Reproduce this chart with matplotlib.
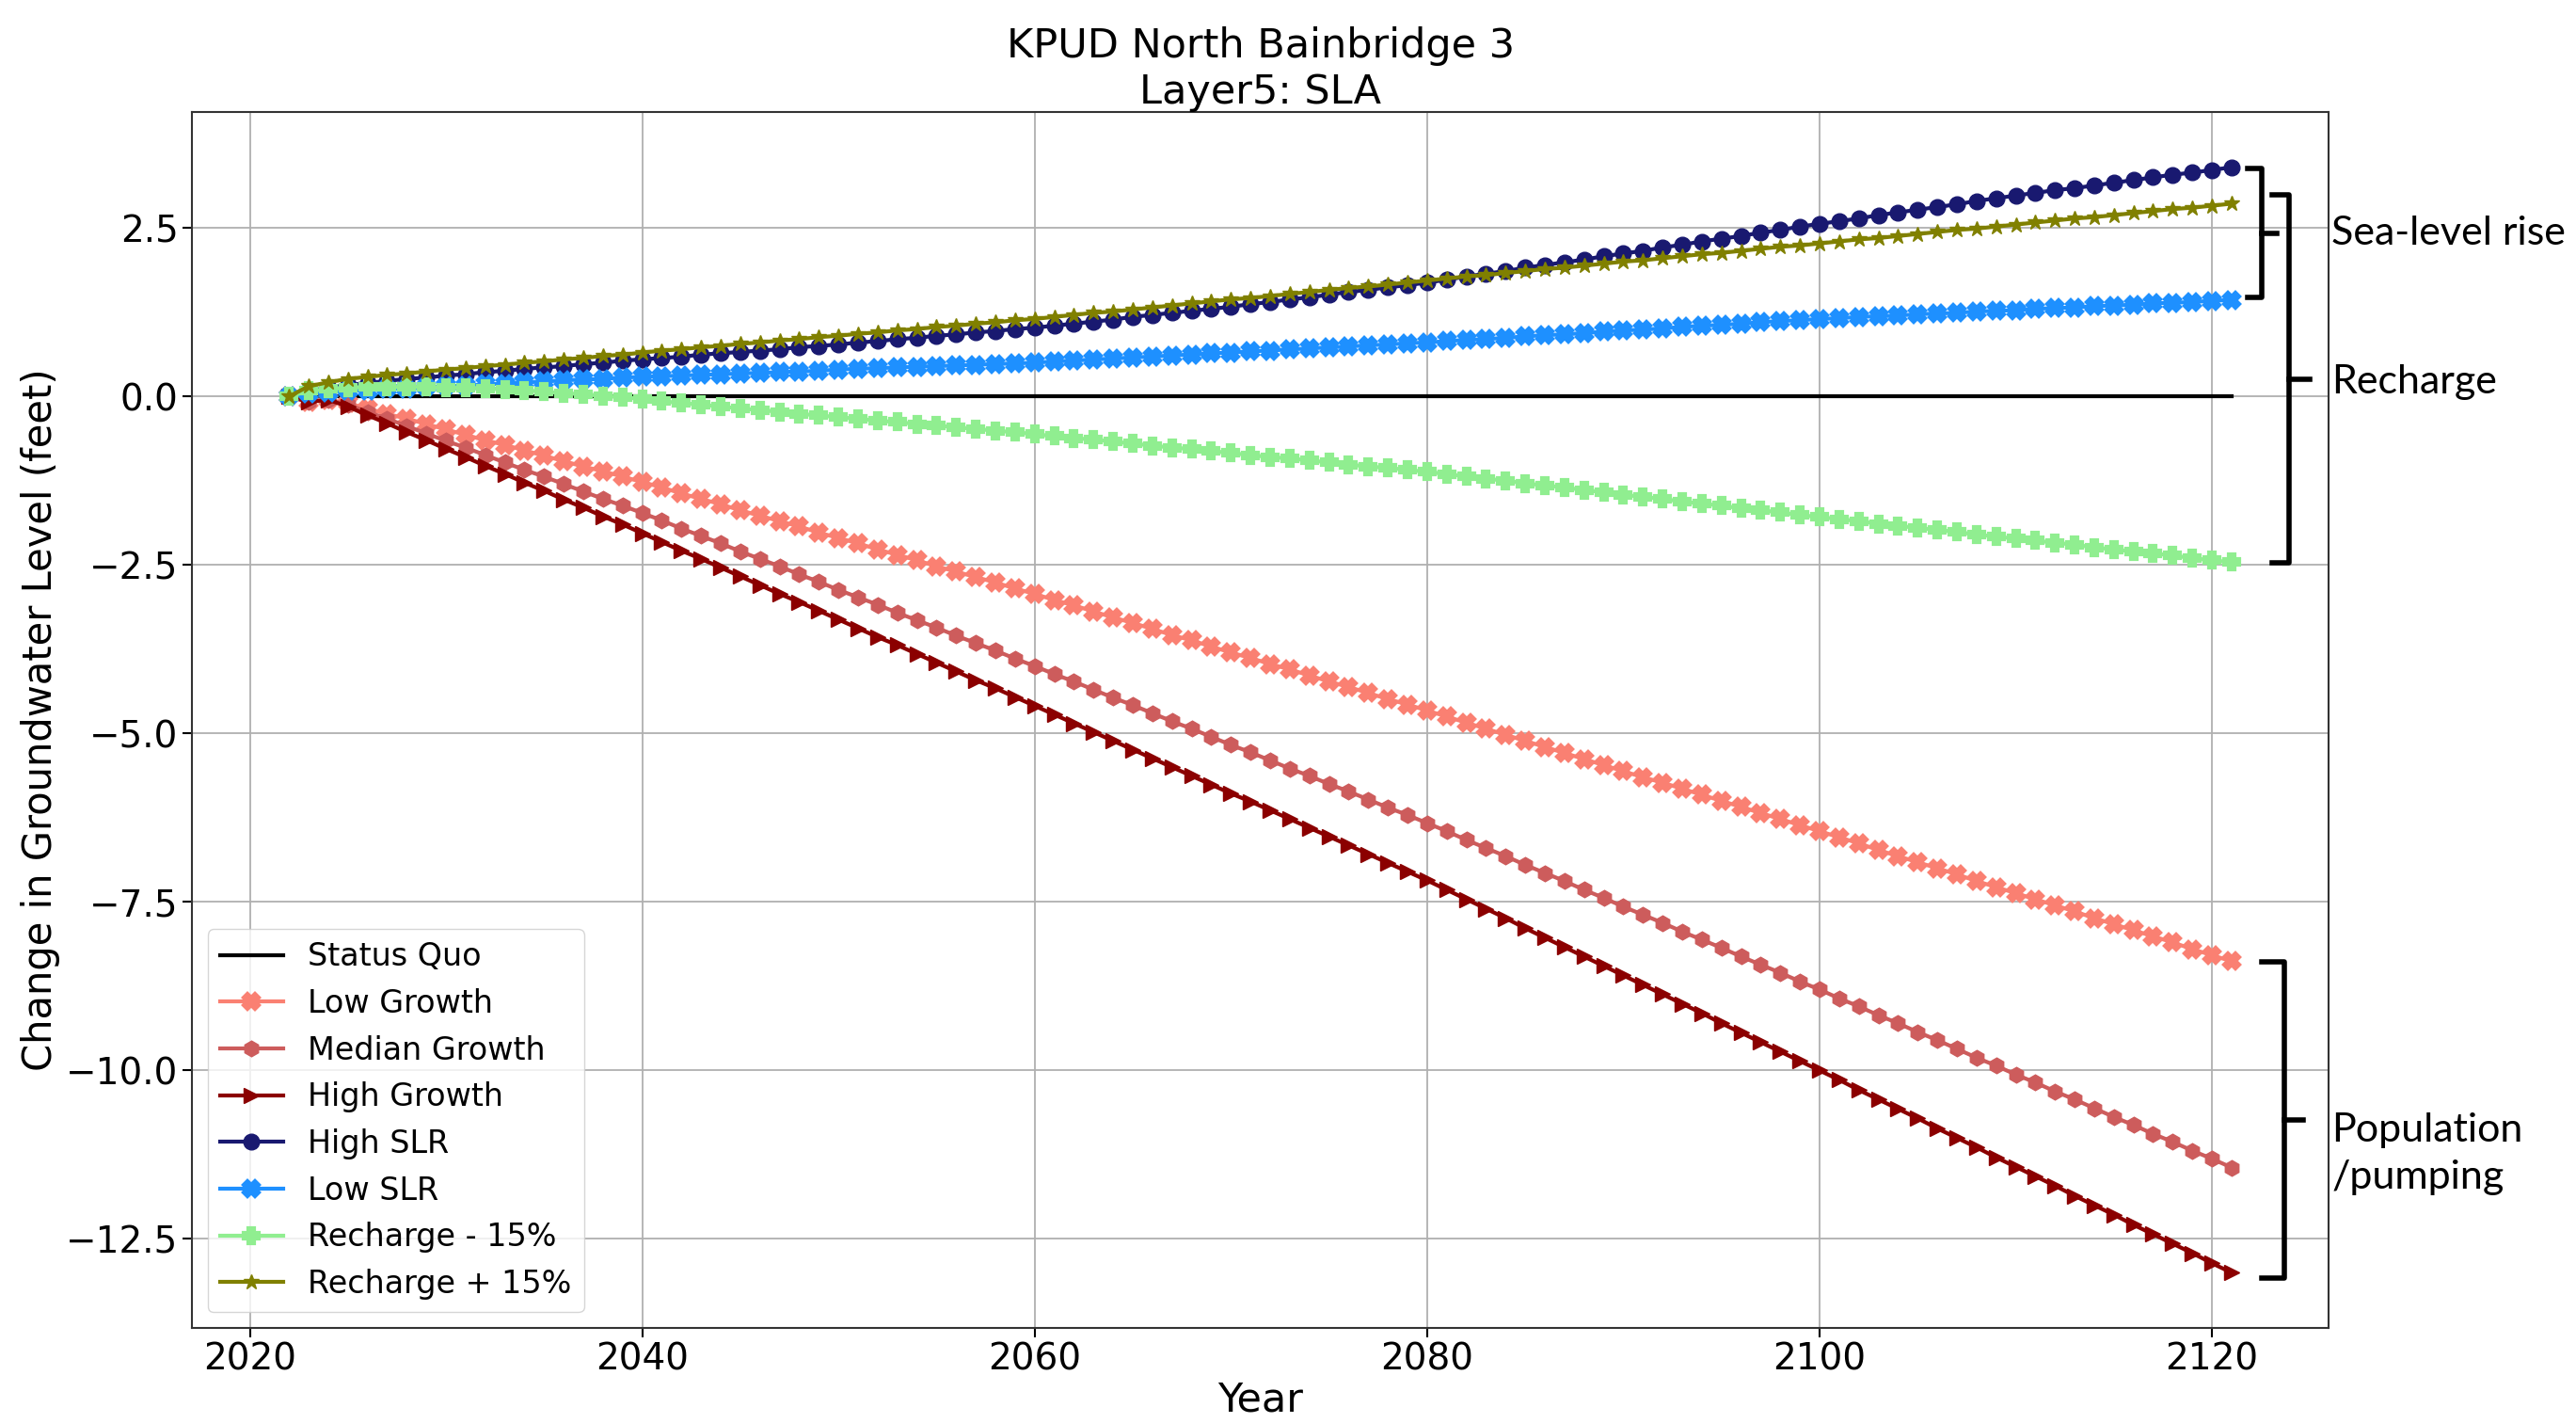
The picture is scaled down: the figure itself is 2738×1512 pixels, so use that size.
import matplotlib
matplotlib.use("Agg")
import matplotlib.pyplot as plt

# yearly model output, 2022-2121
years = list(range(2022, 2122))

status_quo = [0.0] * len(years)

low_growth = [
    0.00, -0.08, -0.05, -0.10, -0.18, -0.26, -0.33, -0.41, -0.49, -0.57,
    -0.65, -0.72, -0.80, -0.88, -0.96, -1.04, -1.11, -1.19, -1.27, -1.35,
    -1.44, -1.52, -1.60, -1.69, -1.77, -1.85, -1.93, -2.02, -2.10, -2.18,
    -2.27, -2.35, -2.43, -2.52, -2.60, -2.68, -2.76, -2.85, -2.93, -3.02,
    -3.10, -3.19, -3.28, -3.36, -3.45, -3.54, -3.62, -3.71, -3.80, -3.88,
    -3.97, -4.05, -4.14, -4.23, -4.31, -4.40, -4.49, -4.57, -4.66, -4.75,
    -4.84, -4.93, -5.02, -5.11, -5.20, -5.29, -5.38, -5.47, -5.56, -5.65,
    -5.73, -5.82, -5.91, -6.00, -6.09, -6.18, -6.27, -6.36, -6.45, -6.54,
    -6.63, -6.73, -6.82, -6.91, -7.00, -7.09, -7.19, -7.28, -7.37, -7.46,
    -7.55, -7.64, -7.74, -7.83, -7.92, -8.01, -8.10, -8.20, -8.29, -8.38,
]

median_growth = [
    0.00, -0.08, -0.05, -0.12, -0.23, -0.33, -0.44, -0.55, -0.66, -0.76,
    -0.87, -0.98, -1.09, -1.19, -1.30, -1.41, -1.52, -1.62, -1.73, -1.84,
    -1.96, -2.07, -2.18, -2.30, -2.41, -2.52, -2.64, -2.75, -2.87, -2.98,
    -3.09, -3.21, -3.32, -3.43, -3.55, -3.66, -3.77, -3.89, -4.00, -4.12,
    -4.23, -4.35, -4.47, -4.58, -4.70, -4.82, -4.93, -5.05, -5.17, -5.28,
    -5.40, -5.52, -5.63, -5.75, -5.86, -5.98, -6.10, -6.21, -6.33, -6.45,
    -6.58, -6.70, -6.82, -6.95, -7.07, -7.19, -7.32, -7.44, -7.57, -7.69,
    -7.81, -7.94, -8.06, -8.18, -8.31, -8.43, -8.55, -8.68, -8.80, -8.93,
    -9.05, -9.18, -9.30, -9.43, -9.55, -9.68, -9.81, -9.93, -10.06, -10.18,
    -10.31, -10.43, -10.56, -10.69, -10.81, -10.94, -11.06, -11.19, -11.31, -11.44,
]

high_growth = [
    0.00, -0.08, -0.05, -0.15, -0.28, -0.40, -0.53, -0.65, -0.78, -0.90,
    -1.03, -1.15, -1.28, -1.40, -1.53, -1.65, -1.78, -1.90, -2.03, -2.16,
    -2.29, -2.41, -2.54, -2.67, -2.80, -2.93, -3.05, -3.18, -3.31, -3.44,
    -3.57, -3.69, -3.82, -3.95, -4.08, -4.21, -4.33, -4.46, -4.59, -4.72,
    -4.85, -4.98, -5.11, -5.24, -5.37, -5.50, -5.63, -5.76, -5.89, -6.01,
    -6.14, -6.27, -6.40, -6.53, -6.66, -6.79, -6.92, -7.05, -7.18, -7.32,
    -7.46, -7.60, -7.74, -7.89, -8.03, -8.17, -8.31, -8.45, -8.59, -8.73,
    -8.87, -9.01, -9.15, -9.30, -9.44, -9.58, -9.72, -9.86, -10.00, -10.14,
    -10.29, -10.43, -10.57, -10.71, -10.86, -11.00, -11.14, -11.29, -11.43, -11.57,
    -11.71, -11.86, -12.00, -12.14, -12.29, -12.43, -12.57, -12.71, -12.86, -13.00,
]

high_slr = [
    0.00, 0.08, 0.13, 0.17, 0.20, 0.23, 0.26, 0.28, 0.31, 0.33,
    0.36, 0.38, 0.41, 0.43, 0.45, 0.48, 0.50, 0.53, 0.55, 0.57,
    0.59, 0.62, 0.64, 0.66, 0.68, 0.70, 0.73, 0.75, 0.77, 0.80,
    0.82, 0.85, 0.87, 0.90, 0.92, 0.95, 0.97, 1.00, 1.02, 1.05,
    1.08, 1.11, 1.14, 1.18, 1.21, 1.24, 1.27, 1.30, 1.33, 1.37,
    1.40, 1.44, 1.47, 1.51, 1.55, 1.58, 1.62, 1.65, 1.69, 1.73,
    1.78, 1.82, 1.86, 1.91, 1.95, 1.99, 2.03, 2.08, 2.12, 2.16,
    2.21, 2.25, 2.30, 2.34, 2.38, 2.43, 2.47, 2.52, 2.56, 2.60,
    2.64, 2.69, 2.73, 2.77, 2.81, 2.85, 2.90, 2.94, 2.98, 3.02,
    3.06, 3.09, 3.13, 3.17, 3.21, 3.25, 3.29, 3.32, 3.36, 3.40,
]

low_slr = [
    0.00, 0.04, 0.06, 0.08, 0.09, 0.11, 0.12, 0.14, 0.15, 0.16,
    0.18, 0.19, 0.21, 0.22, 0.24, 0.25, 0.26, 0.28, 0.29, 0.30,
    0.31, 0.32, 0.33, 0.34, 0.35, 0.36, 0.37, 0.38, 0.40, 0.41,
    0.42, 0.43, 0.44, 0.45, 0.46, 0.47, 0.48, 0.49, 0.50, 0.52,
    0.53, 0.55, 0.56, 0.58, 0.59, 0.61, 0.62, 0.64, 0.65, 0.67,
    0.68, 0.70, 0.71, 0.73, 0.74, 0.76, 0.77, 0.79, 0.80, 0.82,
    0.84, 0.85, 0.87, 0.89, 0.91, 0.92, 0.94, 0.96, 0.98, 0.99,
    1.01, 1.03, 1.05, 1.06, 1.08, 1.10, 1.12, 1.13, 1.15, 1.16,
    1.18, 1.19, 1.20, 1.22, 1.23, 1.24, 1.26, 1.27, 1.28, 1.30,
    1.31, 1.32, 1.34, 1.35, 1.36, 1.38, 1.39, 1.40, 1.42, 1.43,
]

recharge_minus = [
    0.00, 0.08, 0.11, 0.13, 0.14, 0.14, 0.14, 0.14, 0.13, 0.13,
    0.12, 0.10, 0.09, 0.07, 0.05, 0.03, 0.01, -0.01, -0.04, -0.07,
    -0.10, -0.12, -0.15, -0.18, -0.20, -0.23, -0.26, -0.28, -0.31, -0.33,
    -0.36, -0.38, -0.41, -0.43, -0.46, -0.48, -0.51, -0.53, -0.56, -0.59,
    -0.62, -0.64, -0.67, -0.70, -0.73, -0.76, -0.78, -0.81, -0.84, -0.87,
    -0.90, -0.92, -0.95, -0.98, -1.01, -1.04, -1.06, -1.09, -1.12, -1.15,
    -1.19, -1.22, -1.25, -1.29, -1.32, -1.35, -1.39, -1.42, -1.46, -1.49,
    -1.52, -1.56, -1.59, -1.62, -1.66, -1.69, -1.72, -1.76, -1.79, -1.82,
    -1.85, -1.89, -1.92, -1.95, -1.98, -2.01, -2.05, -2.08, -2.11, -2.14,
    -2.17, -2.20, -2.24, -2.27, -2.30, -2.33, -2.36, -2.40, -2.43, -2.46,
]

recharge_plus = [
    0.00, 0.15, 0.21, 0.26, 0.29, 0.32, 0.34, 0.37, 0.40, 0.42,
    0.45, 0.47, 0.50, 0.52, 0.55, 0.57, 0.60, 0.62, 0.65, 0.68,
    0.70, 0.73, 0.75, 0.78, 0.80, 0.83, 0.85, 0.88, 0.90, 0.93,
    0.95, 0.98, 1.00, 1.03, 1.05, 1.08, 1.10, 1.13, 1.15, 1.18,
    1.21, 1.24, 1.26, 1.29, 1.32, 1.35, 1.38, 1.41, 1.44, 1.46,
    1.49, 1.52, 1.55, 1.58, 1.61, 1.63, 1.66, 1.69, 1.72, 1.75,
    1.78, 1.80, 1.83, 1.86, 1.89, 1.91, 1.94, 1.97, 2.00, 2.02,
    2.05, 2.08, 2.11, 2.13, 2.16, 2.19, 2.22, 2.24, 2.27, 2.30,
    2.33, 2.35, 2.38, 2.41, 2.44, 2.47, 2.49, 2.52, 2.55, 2.58,
    2.61, 2.64, 2.66, 2.69, 2.72, 2.75, 2.78, 2.80, 2.83, 2.86,
]

# label, values, color, marker
scenarios = [
    ("Low Growth", low_growth, "salmon", "X"),
    ("Median Growth", median_growth, "indianred", "h"),
    ("High Growth", high_growth, "darkred", ">"),
    ("High SLR", high_slr, "midnightblue", "o"),
    ("Low SLR", low_slr, "dodgerblue", "X"),
    ("Recharge - 15%", recharge_minus, "lightgreen", "P"),
    ("Recharge + 15%", recharge_plus, "olive", "*"),
]

fig = plt.figure(figsize=(27.38, 15.12), dpi=100)
ax = fig.add_axes([0.0745, 0.0668, 0.8295, 0.8545])

ax.plot(years, status_quo, color="black", lw=3, label="Status Quo")
for label, vals, color, marker in scenarios:
    # fatter edges make the small markers look blocky like the original
    mew = 3 if marker in ("X", "P") else 1
    ax.plot(years, vals, color=color, marker=marker, markersize=12, mew=mew,
            lw=3, label=label)

ax.set_title("KPUD North Bainbridge 3\nLayer5: SLA", fontsize=31)
ax.set_xlabel("Year", fontsize=31, labelpad=2)
ax.set_ylabel("Change in Groundwater Level (feet)", fontsize=30)
ax.tick_params(labelsize=28, length=7, width=1.5)
ax.set_yticks([-12.5, -10.0, -7.5, -5.0, -2.5, 0.0, 2.5])
ax.grid(True, color="#b0b0b0", lw=1.3)
for sp in ax.spines.values():
    sp.set_linewidth(1.5)
    sp.set_color("#333333")

ax.legend(loc="lower left", fontsize=24, handlelength=2.0)

# keep the data limits; brackets sit in the right margin
ax.autoscale(False)

def bracket(x0, x1, xt, ytop, ybot):
    ymid = (ytop + ybot) / 2
    ax.plot([x0, x1, x1, x0], [ytop, ytop, ybot, ybot], color="black", lw=4,
            clip_on=False, solid_joinstyle="round")
    ax.plot([x1, xt], [ymid, ymid], color="black", lw=4, clip_on=False)
    return ymid

y_slr = bracket(2121.8, 2122.55, 2123.3, high_slr[-1] - 0.02, low_slr[-1] + 0.04)
y_rch = bracket(2123.05, 2123.95, 2125.0, recharge_plus[-1] + 0.13, recharge_minus[-1] - 0.01)
y_pop = bracket(2122.55, 2123.7, 2124.65, low_growth[-1] - 0.01, high_growth[-1] - 0.08)

note_font = dict(fontsize=31, family="Lato", ha="left", va="center", clip_on=False)
ax.text(2126.1, y_slr, "Sea-level rise", **note_font)
ax.text(2126.1, y_rch - 0.05, "Recharge", **note_font)
ax.text(2126.1, y_pop - 0.5, "Population\n/pumping", linespacing=1.4, **note_font)

fig.savefig("out.png", dpi=100)
